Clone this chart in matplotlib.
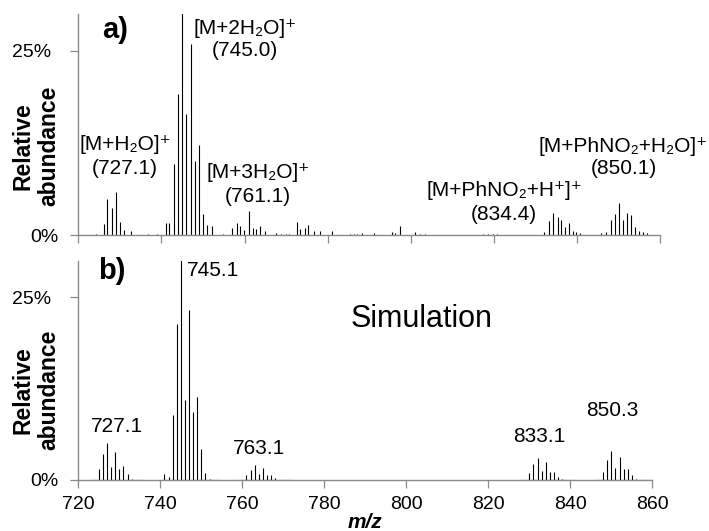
import numpy as np
import matplotlib
matplotlib.use('Agg')
import matplotlib.pyplot as plt
from matplotlib.transforms import ScaledTranslation

plt.rcParams['font.family'] = ['Liberation Sans', 'DejaVu Sans']

# measured spectrum (a): m/z and relative abundance (%)
meas_mz = [724.2, 726.3, 727.0, 728.0, 729.0, 730.1, 731.1, 732.6, 736.8, 739.0,
           741.0, 741.7, 743.0, 744.0, 745.0, 746.0, 747.0, 748.0, 749.0, 750.0, 751.0, 752.1, 754.8,
           757.0, 758.1, 759.0, 759.9, 761.0, 762.0, 762.8, 763.7, 764.9, 767.6, 768.8, 770.0, 770.8,
           772.6, 773.4, 774.5, 775.2, 776.7, 778.1, 781.0, 785.4, 786.3, 787.0, 788.2, 791.2,
           795.4, 796.3, 797.5, 801.1, 802.2, 803.4, 817.4, 818.6, 819.8, 820.8,
           832.0, 833.2, 834.3, 835.5, 836.0, 837.1, 838.0, 838.9, 839.7, 840.7,
           845.7, 846.9, 848.1, 849.0, 850.0, 851.0, 851.9, 853.0, 854.0, 854.9, 855.9, 856.9]
meas_int = [0.15, 1.45, 4.85, 3.7, 5.85, 1.8, 0.7, 0.6, 0.15, 0.2,
            1.6, 1.6, 9.7, 19.2, 30.5, 16.4, 26.0, 10.0, 12.2, 2.9, 1.4, 1.2, 0.2,
            0.9, 1.6, 1.2, 0.7, 3.2, 0.9, 0.8, 1.2, 0.6, 0.3, 0.2, 0.2, 0.2,
            1.8, 0.8, 1.0, 1.3, 0.6, 0.6, 0.5, 0.2, 0.2, 0.2, 0.3, 0.3,
            0.4, 0.3, 1.2, 0.45, 0.2, 0.2, 0.15, 0.15, 0.2, 0.2,
            0.4, 1.9, 3.0, 2.4, 2.1, 1.1, 1.6, 0.6, 0.4, 0.3,
            0.3, 0.4, 2.1, 2.8, 4.3, 2.1, 3.0, 2.7, 1.1, 0.5, 0.4, 0.3]

# simulated spectrum (b)
sim_mz = [725, 726, 727, 728, 729, 730, 731, 732, 733,
          741, 742, 743, 744, 745, 746, 747, 748, 749, 750, 751, 752,
          761, 762, 763, 764, 765, 766, 767, 768,
          830, 831, 832, 833, 834, 835, 836, 837, 838,
          848, 849, 850, 851, 852, 853, 854, 855, 856]
sim_int = [1.46, 3.56, 5.0, 1.8, 3.9, 1.5, 1.9, 0.8, 0.2,
           0.8, 0.4, 8.9, 21.3, 30.5, 11.0, 23.3, 9.3, 11.4, 4.2, 1.0, 0.2,
           0.7, 1.4, 2.05, 0.8, 1.6, 0.7, 0.7, 0.3,
           0.9, 2.2, 3.0, 1.3, 2.4, 1.1, 1.1, 0.4, 0.1,
           1.1, 2.8, 4.0, 1.7, 3.1, 1.5, 1.5, 0.7, 0.1]
sim_start = [722.9, 740.8, 759.0, 828.0, 846.0]
sim_end = [736.0, 754.1, 772.0, 841.2, 860.0]

W, H = 709, 531
fig = plt.figure(figsize=(W / 100, H / 100), dpi=100)


def px(x, y):
    return x / W, 1 - y / H


gray = '#8a8a8a'
ax1 = fig.add_axes([78.3 / W, 1 - 235 / H, 582 / W, 220.8 / H])
ax2 = fig.add_axes([78.3 / W, 1 - 480 / H, 574 / W, 219.2 / H])

ax1.vlines(meas_mz, 0, meas_int, color='black', lw=0.8)
ax2.hlines(np.zeros(len(sim_start)), sim_start, sim_end, color='black', lw=0.8)
ax2.vlines(sim_mz, 0, sim_int, color='black', lw=0.8)

for ax in (ax1, ax2):
    ax.set_xlim(720, 860)
    ax.set_ylim(0, 30)
    ax.set_xticks(range(720, 861, 20))
    ax.set_yticks([0, 25])
    ax.set_yticklabels(['0%', '25%'])
    for s in ('top', 'right'):
        ax.spines[s].set_visible(False)
    for s in ('left', 'bottom'):
        ax.spines[s].set_color(gray)
        ax.spines[s].set_linewidth(1.0)
    ax.tick_params(direction='out', length=5.5, width=0.9, color=gray, labelsize=14)
    ax.tick_params(axis='y', pad=9)
    ax.tick_params(axis='x', pad=6)
    ax.set_facecolor('none')
    lab = ax.yaxis.get_major_ticks()[1].label1
    lab.set_transform(lab.get_transform() + ScaledTranslation(-5 / 72, 0, fig.dpi_scale_trans))
ax1.tick_params(axis='x', labelbottom=False)

fs = 15
# panel a labels
fig.text(*px(115, 30), 'a)', fontsize=21, fontweight='bold', ha='center', va='center')
fig.text(*px(125, 145), '[M+H₂O]⁺', fontsize=fs, ha='center', va='center')
fig.text(*px(125, 168), '(727.1)', fontsize=fs, ha='center', va='center')
fig.text(*px(245, 29), '[M+2H₂O]⁺', fontsize=fs, ha='center', va='center')
fig.text(*px(245, 51), '(745.0)', fontsize=fs, ha='center', va='center')
fig.text(*px(258, 172), '[M+3H₂O]⁺', fontsize=fs, ha='center', va='center')
fig.text(*px(258, 196), '(761.1)', fontsize=fs, ha='center', va='center')
fig.text(*px(504, 191), '[M+PhNO₂+H⁺]⁺', fontsize=fs, ha='center', va='center')
fig.text(*px(504, 215), '(834.4)', fontsize=fs, ha='center', va='center')
fig.text(*px(623, 146), '[M+PhNO₂+H₂O]⁺', fontsize=fs, ha='center', va='center')
fig.text(*px(624, 169), '(850.1)', fontsize=fs, ha='center', va='center')

# panel b labels
fig.text(*px(112, 271), 'b)', fontsize=21, fontweight='bold', ha='center', va='center')
fig.text(*px(213, 270), '745.1', fontsize=fs, ha='center', va='center')
fig.text(*px(117, 427), '727.1', fontsize=fs, ha='center', va='center')
fig.text(*px(259, 449), '763.1', fontsize=fs, ha='center', va='center')
fig.text(*px(539, 436), '833.1', fontsize=fs, ha='center', va='center')
fig.text(*px(612, 410), '850.3', fontsize=fs, ha='center', va='center')
fig.text(*px(422, 319), 'Simulation', fontsize=22, ha='center', va='center')

for yc in (146, 390):
    fig.text(*px(36, yc), 'Relative\nabundance', fontsize=16.5, fontweight='bold',
             rotation=90, ha='center', va='center', linespacing=1.15)
fig.text(*px(365, 522), 'm/z', fontsize=15, fontweight='bold', style='italic',
         ha='center', va='center')

fig.savefig('out.png', dpi=100)
